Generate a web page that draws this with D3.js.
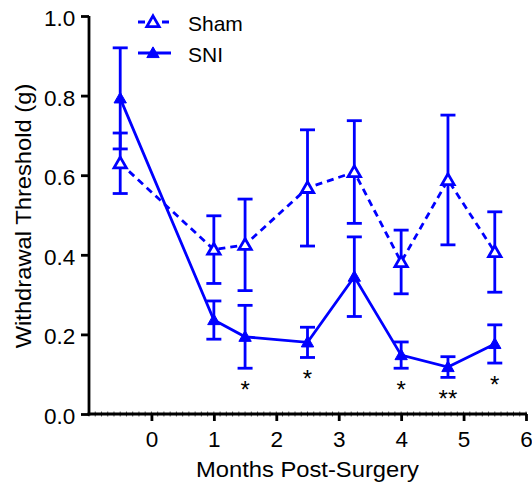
<!DOCTYPE html>
<html>
<head>
<meta charset="utf-8">
<script src="https://cdn.jsdelivr.net/npm/d3@7"></script>
<style>
  html, body { margin: 0; padding: 0; background: #fff; }
  svg { display: block; }
  text { font-family: "Liberation Sans", Arial, Helvetica, sans-serif; fill: #000; }
</style>
</head>
<body>
<svg id="chart" width="532" height="486"></svg>
<script>
// Time points (months post-surgery)
const months = [-0.5, 1.0, 1.5, 2.5, 3.25, 4.0, 4.75, 5.5];

// Withdrawal threshold, mean and SEM (g)
const shamMean = [0.630, 0.413, 0.425, 0.568, 0.608, 0.382, 0.588, 0.407];
const shamSem  = [0.076, 0.085, 0.115, 0.146, 0.129, 0.080, 0.163, 0.101];
const sniMean  = [0.793, 0.236, 0.194, 0.180, 0.345, 0.148, 0.118, 0.176];
const sniSem   = [0.127, 0.048, 0.079, 0.038, 0.100, 0.033, 0.026, 0.048];

// Significance marks (SNI vs Sham), one per time point
const sigLabels = ["", "", "*", "*", "", "*", "**", "*"];

const yTicks = [0, 0.2, 0.4, 0.6, 0.8, 1.0];
const xTicks = [0, 1, 2, 3, 4, 5, 6];

const blue = "#0000ff";
const sw = 2.8;
const svg = d3.select("#chart");

const x = d3.scaleLinear().domain([-1, 6]).range([89, 526]);
const y = d3.scaleLinear().domain([0, 1]).range([414, 16]);

const series = [
  { name: "Sham", mean: shamMean, sem: shamSem, dashed: true,  filled: false },
  { name: "SNI",  mean: sniMean,  sem: sniSem,  dashed: false, filled: true }
];
series.forEach(s => {
  s.points = months.map((m, i) => ({ x: m, v: s.mean[i], e: s.sem[i], sig: sigLabels[i] }));
});

// Minor ticks along the x axis
const minor = d3.range(-1, 6.0001, 0.1);
svg.append("g").selectAll("line").data(minor).join("line")
  .attr("x1", d => x(d)).attr("x2", d => x(d))
  .attr("y1", y(0) - 2.5).attr("y2", y(0) + 2.5)
  .attr("stroke", "#000").attr("stroke-width", 0.7);

// Axes
const xAxis = svg.append("g")
  .attr("transform", `translate(0,${y(0)})`)
  .call(d3.axisBottom(x).tickValues(xTicks).tickFormat(d3.format("d")).tickSize(7).tickSizeOuter(0));
const yAxis = svg.append("g")
  .attr("transform", `translate(${x(-1)},0)`)
  .call(d3.axisLeft(y).tickValues(yTicks).tickFormat(d3.format(".1f")).tickSize(8).tickSizeOuter(0));

[xAxis, yAxis].forEach(g => {
  g.select(".domain").attr("stroke", "#000").attr("stroke-width", sw);
  g.selectAll(".tick line").attr("stroke", "#000").attr("stroke-width", sw);
  g.selectAll(".tick text").attr("font-size", 22.5).attr("font-family", "Liberation Sans, Arial, sans-serif").attr("fill", "#000");
});
xAxis.select(".domain").attr("d", `M${x(-1) - 1.4},0H${x(6) + 1}`);
yAxis.select(".domain").attr("d", `M0,${y(1)}V${y(0) + 1.4}`);
xAxis.selectAll(".tick text").attr("dy", "1.03em");
yAxis.selectAll(".tick text").attr("dx", "-0.12em").attr("dy", "0.42em");

// Axis titles
svg.append("text")
  .attr("transform", `translate(${x(2.5)},477) scale(1.08,1)`)
  .attr("text-anchor", "middle").attr("font-size", 22)
  .text("Months Post-Surgery");
svg.append("text")
  .attr("transform", `translate(31,${y(0.5) + 1}) rotate(-90) scale(1.08,1)`)
  .attr("text-anchor", "middle").attr("font-size", 22)
  .text("Withdrawal Threshold (g)");

const line = d3.line().x(d => x(d.x)).y(d => y(d.v));
const triangle = d3.symbol().type(d3.symbolTriangle).size(66);
const capHalf = 7.5;

series.forEach(s => {
  const g = svg.append("g");
  // error bars
  const eb = g.append("g").selectAll("g").data(s.points).join("g");
  eb.append("line")
    .attr("x1", d => x(d.x)).attr("x2", d => x(d.x))
    .attr("y1", d => y(d.v + d.e)).attr("y2", d => y(d.v - d.e))
    .attr("stroke", blue).attr("stroke-width", sw);
  eb.append("line")
    .attr("x1", d => x(d.x) - capHalf).attr("x2", d => x(d.x) + capHalf)
    .attr("y1", d => y(d.v + d.e)).attr("y2", d => y(d.v + d.e))
    .attr("stroke", blue).attr("stroke-width", sw);
  eb.append("line")
    .attr("x1", d => x(d.x) - capHalf).attr("x2", d => x(d.x) + capHalf)
    .attr("y1", d => y(d.v - d.e)).attr("y2", d => y(d.v - d.e))
    .attr("stroke", blue).attr("stroke-width", sw);
  // connecting line
  g.append("path").datum(s.points)
    .attr("d", line).attr("fill", "none")
    .attr("stroke", blue).attr("stroke-width", sw)
    .attr("stroke-dasharray", s.dashed ? "7,5" : null);
  s.g = g;
});

// markers on top
series.forEach(s => {
  s.g.append("g").selectAll("path").data(s.points).join("path")
    .attr("d", triangle)
    .attr("transform", d => `translate(${x(d.x)},${y(d.v) + 1})`)
    .attr("fill", s.filled ? blue : "#fff")
    .attr("stroke", blue).attr("stroke-width", s.filled ? 1 : sw);
});

// significance asterisks beneath SNI error bars
const sni = series[1];
svg.append("g").selectAll("text").data(sni.points.filter(d => d.sig)).join("text")
  .attr("x", d => x(d.x)).attr("y", d => y(d.v - d.e) + 30)
  .attr("text-anchor", "middle").attr("font-size", 24)
  .text(d => d.sig);

// Legend
const legend = svg.append("g");
series.forEach((s, i) => {
  const ly = 22 + i * 31;
  legend.append("line")
    .attr("x1", 138).attr("x2", 171).attr("y1", ly).attr("y2", ly)
    .attr("stroke", blue).attr("stroke-width", sw)
    .attr("stroke-dasharray", s.dashed ? "7,5" : null);
  legend.append("path")
    .attr("d", triangle)
    .attr("transform", `translate(153,${ly + 1})`)
    .attr("fill", s.filled ? blue : "#fff")
    .attr("stroke", blue).attr("stroke-width", s.filled ? 1 : sw);
  legend.append("text")
    .attr("x", 188).attr("y", ly + 9)
    .attr("font-size", 21)
    .text(s.name);
});
</script>
</body>
</html>
